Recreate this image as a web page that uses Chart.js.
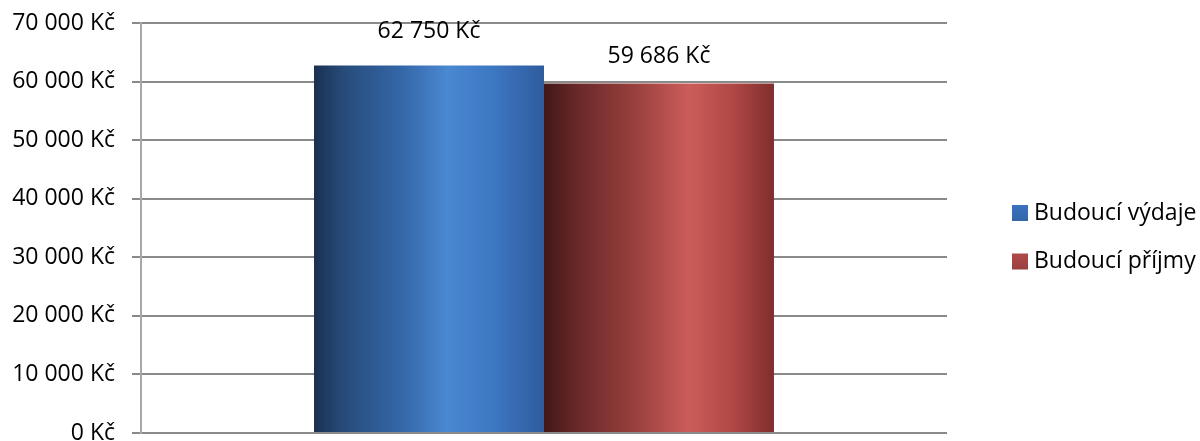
<!DOCTYPE html>
<html>
<head>
<meta charset="utf-8">
<script src="https://cdn.jsdelivr.net/npm/chart.js@4/dist/chart.umd.min.js"></script>
<style>
  html, body { margin: 0; padding: 0; background: #ffffff; }
  #wrap { width: 1200px; height: 441px; position: relative; }
</style>
</head>
<body>
<div id="wrap"><canvas id="c" width="1200" height="441"></canvas></div>
<script>
// ---- data ----
const categories = [''];
const seriesNames = ['Budoucí výdaje', 'Budoucí příjmy'];
const budouciVydaje = [62750];
const budouciPrijmy = [59686];
const yTickValues = [0, 10000, 20000, 30000, 40000, 50000, 60000, 70000];
const yTickLabels = ['0 Kč', '10 000 Kč', '20 000 Kč', '30 000 Kč', '40 000 Kč', '50 000 Kč', '60 000 Kč', '70 000 Kč'];

// ---- styles ----
const FONT = "'Open Sans', 'DejaVu Sans', sans-serif";
const FONT_SIZE = 23;
const CAT_PCT = 0.5707;
const gradientStops = [
  [[0, '#1a3050'], [0.12, '#264a78'], [0.38, '#3467a8'], [0.58, '#4a88d2'], [0.78, '#3d77c3'], [1, '#2e5c9e']],
  [[0, '#431717'], [0.14, '#682828'], [0.4, '#9a403e'], [0.63, '#cc5c5a'], [0.82, '#b04846'], [1, '#7f2e2e']]
];
const legendColors = ['#3a72bf', '#b0494a'];
const labelOffsets = [34, 27];

function fmt(v) {
  return String(v).replace(/\B(?=(\d{3})+(?!\d))/g, ' ') + ' Kč';
}

function barGradient(ctx) {
  const chart = ctx.chart;
  const xs = chart.scales.x;
  if (!xs || !chart.chartArea) return gradientStops[ctx.datasetIndex][3][1];
  const n = chart.data.datasets.length;
  const center = xs.getPixelForValue(ctx.dataIndex);
  const size = xs.width * CAT_PCT;
  const chunk = size / n;
  const left = center - size / 2 + ctx.datasetIndex * chunk;
  const g = chart.ctx.createLinearGradient(left, 0, left + chunk, 0);
  gradientStops[ctx.datasetIndex].forEach(s => g.addColorStop(s[0], s[1]));
  return g;
}

const valueLabels = {
  id: 'valueLabels',
  afterDatasetsDraw(chart) {
    const c = chart.ctx;
    c.save();
    c.font = FONT_SIZE + 'px ' + FONT;
    c.fillStyle = '#000000';
    c.textAlign = 'center';
    c.textBaseline = 'middle';
    chart.data.datasets.forEach((ds, i) => {
      const meta = chart.getDatasetMeta(i);
      meta.data.forEach((el, j) => {
        c.fillText(fmt(ds.data[j]), el.x, el.y - labelOffsets[i]);
      });
    });
    c.restore();
  }
};

const sideLegend = {
  id: 'sideLegend',
  afterDraw(chart) {
    const c = chart.ctx;
    c.save();
    c.font = FONT_SIZE + 'px ' + FONT;
    c.textAlign = 'left';
    c.textBaseline = 'middle';
    const x = 1012, y0 = 213, step = 48.5;
    chart.data.datasets.forEach((ds, i) => {
      const cy = y0 + i * step;
      const g = c.createLinearGradient(0, cy - 8, 0, cy + 8);
      g.addColorStop(0, legendColors[i]);
      g.addColorStop(1, gradientStops[i][2][1]);
      c.fillStyle = g;
      c.fillRect(x, cy - 8, 16, 16);
      c.fillStyle = '#000000';
      c.fillText(ds.label, x + 22, cy);
    });
    c.restore();
  }
};

new Chart(document.getElementById('c'), {
  type: 'bar',
  data: {
    labels: categories,
    datasets: [
      { label: seriesNames[0], data: budouciVydaje, backgroundColor: barGradient, borderWidth: 0 },
      { label: seriesNames[1], data: budouciPrijmy, backgroundColor: barGradient, borderWidth: 0 }
    ]
  },
  options: {
    responsive: false,
    animation: false,
    devicePixelRatio: 1,
    categoryPercentage: CAT_PCT,
    barPercentage: 1,
    layout: { padding: { top: 23, bottom: 8, left: 0, right: 253 } },
    plugins: {
      legend: { display: false },
      tooltip: { enabled: false }
    },
    scales: {
      x: { display: false },
      y: {
        min: 0,
        max: 70000,
        afterBuildTicks(s) { s.ticks = yTickValues.map(v => ({ value: v })); },
        afterFit(s) { s.width = 141; s.paddingTop = 0; s.paddingBottom = 0; },
        ticks: {
          callback: (v, i) => yTickLabels[i],
          font: { family: FONT, size: FONT_SIZE },
          color: '#000000',
          padding: 17
        },
        grid: { color: '#8a8a8a', lineWidth: 2, tickLength: 9, drawTicks: true },
        border: { display: true, color: '#a8a8a8', width: 2 }
      }
    }
  },
  plugins: [valueLabels, sideLegend]
});
</script>
</body>
</html>
